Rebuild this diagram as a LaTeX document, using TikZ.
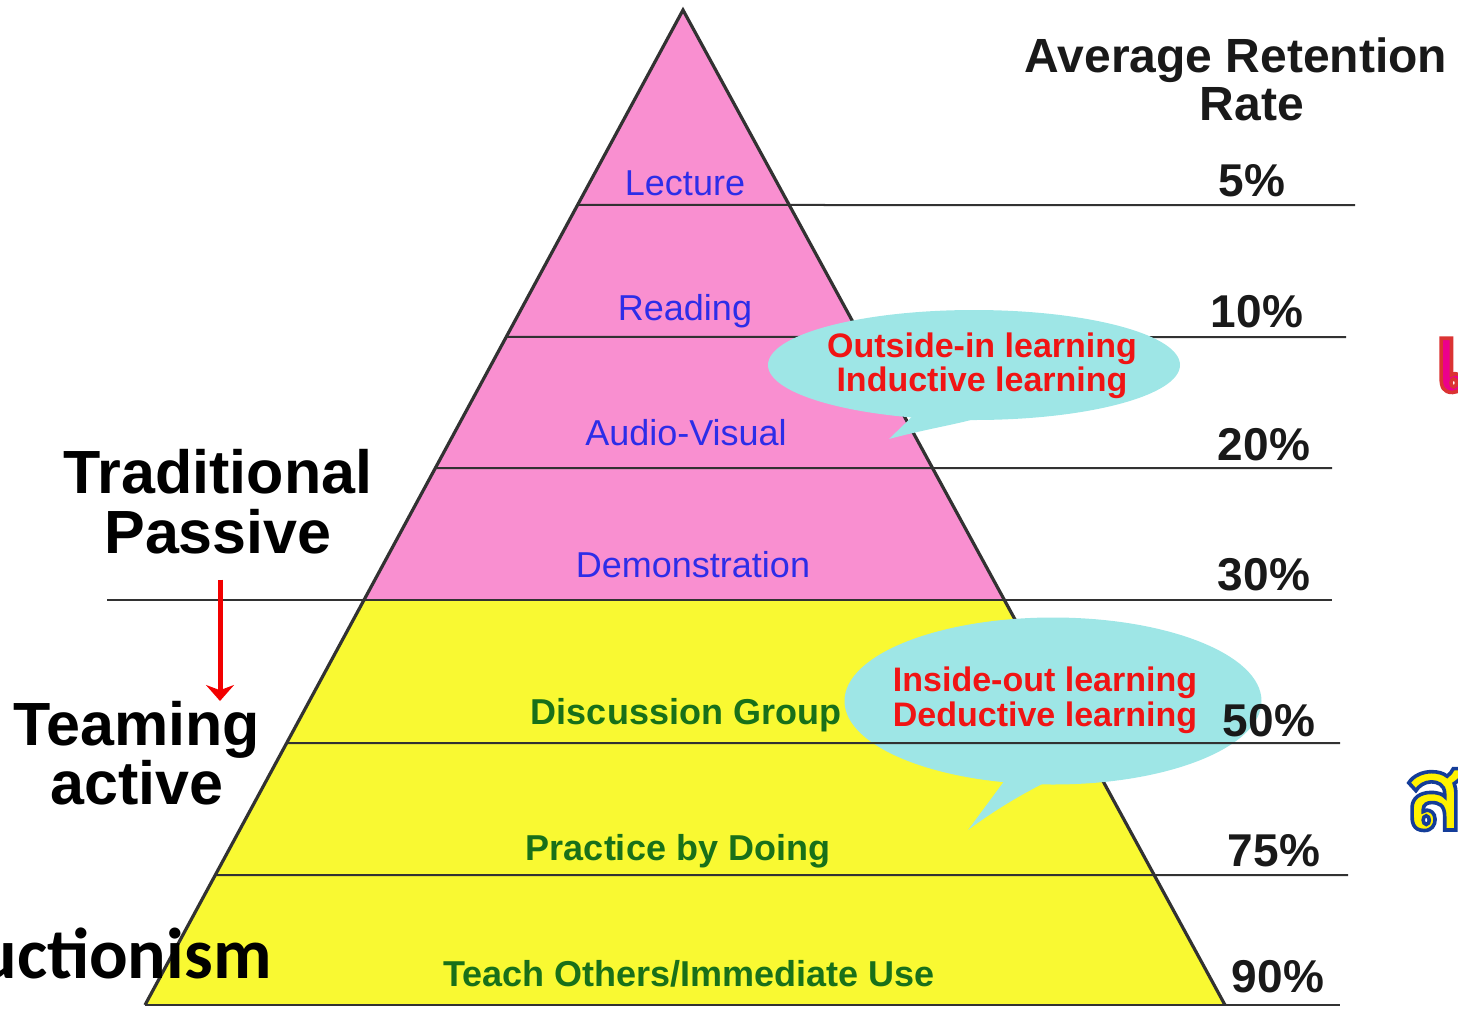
\documentclass[tikz,border=0pt]{standalone}
\usepackage{fontspec}
\setmainfont{Liberation Sans}
\newfontfamily\calibrifont{Carlito}
\newfontfamily\thaifont[Script=Thai]{Loma}
\usepackage{tikz}
\usetikzlibrary{positioning, calc, shapes.geometric, arrows.meta}
\usepackage{xcolor}

\definecolor{pyrpink}{RGB}{249,143,208}
\definecolor{pyryellow}{RGB}{249,249,50}
\definecolor{bubblecyan}{RGB}{158,230,230}
\definecolor{labelblue}{RGB}{45,45,232}
\definecolor{labelgreen}{RGB}{25,112,25}
\definecolor{bubblered}{RGB}{240,20,20}
\definecolor{edgegray}{RGB}{50,50,50}
\definecolor{thaiblue}{RGB}{20,60,150}

% fill + stroke text (stroke colour given as pdf rgb)
\newcommand\outlined[2]{\special{pdf:literal direct 2 Tr 1.8 w #1 RG}#2\special{pdf:literal direct 0 Tr}}

\begin{document}
\begin{tikzpicture}[x=0.5pt, y=-0.5pt, >=Stealth,
    pink label/.style={anchor=base, inner sep=0, text=labelblue, font=\fontsize{18}{20}\selectfont},
    green label/.style={anchor=base, inner sep=0, text=labelgreen, font=\bfseries\fontsize{18}{20}\selectfont},
    rate label/.style={anchor=base, inner sep=0, text=black!90, font=\bfseries\fontsize{23}{24}\selectfont},
    side label/.style={anchor=north, inner sep=0, align=center, font=\bfseries\fontsize{30.5}{30}\selectfont},
    bubble/.style={ellipse, fill=bubblecyan, inner sep=0},
    bubble text/.style={inner sep=0, align=center, text=bubblered},
    level line/.style={draw=edgegray, line width=1pt},
    edge line/.style={draw=edgegray, line width=1.6pt, line join=miter}]

      \useasboundingbox (0,0) rectangle (1458,1008);
      \clip (0,0) rectangle (1458,1008);

      % Pyramid corners
      \coordinate (apex) at (683,10);
      \coordinate (base-l) at (145,1005);
      \coordinate (base-r) at (1225,1005);

      % Edge points of each level line
      \foreach \y [count=\i] in {205,337,468,600,743,875} {
        \coordinate (l-\i) at ($(apex)!{(\y-10)/995}!(base-l)$);
        \coordinate (r-\i) at ($(apex)!{(\y-10)/995}!(base-r)$);
      }

      % Fill the two parts
      \fill [pyrpink] (apex) -- (l-4) -- (r-4) -- cycle;
      \fill [pyryellow] (l-4) -- (base-l) -- (base-r) -- (r-4) -- cycle;

      % Level lines
      \draw [level line] (l-1) -- (1355,205);
      \draw [level line] (l-2) -- (1346,337);
      \draw [level line] (l-3) -- (1332,468);
      \draw [level line] (107,600) -- (1332,600);
      \draw [level line] (l-6) -- (1348,875);
      \draw [level line] (base-l) -- (1340,1005);

      % Pyramid outline
      \draw [edge line] (base-l) -- (apex) -- (base-r);

      % Layer labels
      \node [pink label] (layer-1) at (685,195) {Lecture};
      \node [pink label] (layer-2) at (685,320) {Reading};
      \node [pink label] (layer-3) at (686,445) {Audio-Visual};
      \node [pink label] (layer-4) at (693,577) {Demonstration};
      \node [green label] (layer-5) at (686,724) {Discussion Group};
      \node [green label] (layer-6) at (678,860) {Practice by Doing};
      \node [green label] (layer-7) at (689,986) {Teach Others/Immediate Use};

      % Speech bubbles
      \node [bubble, minimum width=206pt, minimum height=55pt] (bubble-1) at (974,365) {};
      \fill [bubblecyan] (921,408) -- (889,439) .. controls (930,428) and (960,424) .. (985,416) -- cycle;
      \node [bubble text, font=\bfseries\fontsize{17}{15}\selectfont] (bubble-text-1) at (982,366)
        {Outside-in learning\\Inductive learning};

      \node [bubble, minimum width=208.5pt, minimum height=83.5pt] (bubble-2) at (1053,701) {};
      \fill [bubblecyan] (1008,776) -- (968,830) .. controls (995,810) and (1020,795) .. (1050,780) -- cycle;
      \node [bubble text, font=\bfseries\fontsize{17}{17.5}\selectfont] (bubble-text-2) at (1045,700)
        {Inside-out learning\\Deductive learning};

      % This line runs over the lower bubble
      \draw [level line] (l-5) -- (1340,743);

      % Retention rates
      \node [anchor=north, inner sep=0, align=center, text=black!90,
        font=\bfseries\fontsize{24}{24}\selectfont] (rate-title) at (1236,37) {Average Retention\\\hspace*{16pt}Rate};
      \foreach \p/\x/\y [count=\i] in {5/1252/196, 10/1257/327, 20/1264/460, 30/1264/590, 50/1269/736, 75/1274/866, 90/1278/992}
        \node [rate label] (rate-\i) at (\x,\y) {\p\%};

      % Side labels
      \node [side label] (passive) at (218,449) {Traditional\\Passive};
      \node [side label, font=\bfseries\fontsize{30.5}{27.5}\selectfont] (active) at (137,701) {Teaming\\active};
      \draw [->, red!95!black, line width=2.5pt, >={Stealth[width=14pt,length=8pt]}]
        ([xshift=1pt, yshift=-12.5pt]passive.south) -- ([xshift=1pt]passive.south |- active.north);

      \node [anchor=base east, inner sep=0, font=\calibrifont\bfseries\fontsize{36}{36}\selectfont] (construct) at (272,978) {uctionism};

      % Cut-off letters at the right border
      \node [anchor=base west, inner sep=0, text=magenta, font=\thaifont\bfseries\fontsize{48}{48}\selectfont] (thai-1) at (1434,392)
        {\outlined{0.86 0.2 0.2}{เ}};
      \node [anchor=base west, inner sep=0, text=yellow, font=\thaifont\bfseries\fontsize{52}{52}\selectfont] (thai-2) at (1402,830)
        {\outlined{0.08 0.24 0.6}{ส}};
\end{tikzpicture}
\end{document}
